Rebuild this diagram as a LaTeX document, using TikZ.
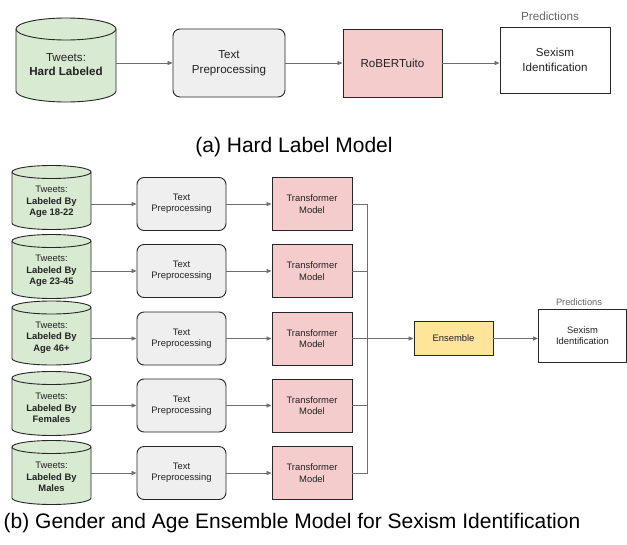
\documentclass[tikz,border=0pt]{standalone}
\usepackage{fontspec}
\setmainfont{Liberation Sans}
\usetikzlibrary{arrows.meta}
\definecolor{cylgreen}{HTML}{D9EAD3}
\definecolor{prepgray}{HTML}{EFEFEF}
\definecolor{modpink}{HTML}{F4CCCC}
\definecolor{ensyellow}{HTML}{FFE599}
\definecolor{linegray}{HTML}{6E6E6E}
\definecolor{txtdark}{HTML}{222222}
\newcommand\drawcyl[3]{%
  \path[fill=cylgreen,draw=black!85,line width=0.9pt]
    ([yshift=-#3]#1.north west) -- ([yshift=#3]#1.south west)
    arc[start angle=180,end angle=360,x radius=#2,y radius=#3]
    -- ([yshift=-#3]#1.north east)
    arc[start angle=0,end angle=180,x radius=#2,y radius=#3] -- cycle;
  \draw[black!85,line width=0.9pt] ([yshift=-#3]#1.north west)
    arc[start angle=180,end angle=360,x radius=#2,y radius=#3];}
\newcommand\brow[4]{%
  \node[cylbody,minimum width=79pt,minimum height=64pt] (c#1) at (51.5,#3) {};
  \drawcyl{c#1}{39.5pt}{6.5pt}
  \node[txtnode,smallfont] (ct#1) at (51.5,#3+4.5) {Tweets:\\\textbf{Labeled By}\\\textbf{#4}};
  \node[prepbox,smallfont,minimum width=89pt,minimum height=53pt] (p#1) at (181.5,#2) {Text\\Preprocessing};
  \node[modbox,smallfont,minimum width=80pt,minimum height=53pt] (t#1) at (312,#2) {Transformer\\Model};
  \draw[arr] (c#1.east |- p#1.west) -- (p#1.west);
  \draw[arr] (p#1.east) -- (t#1.west);}
\begin{document}
\begin{tikzpicture}[x=1pt,y=-1pt,
  bigfont/.style={font=\fontsize{11.6}{14.5}\selectfont},
  smallfont/.style={font=\fontsize{9.4}{11.3}\selectfont},
  cylbody/.style={inner sep=0pt,outer sep=0pt},
  txtnode/.style={align=center,text=txtdark,inner sep=0pt},
  prepbox/.style={draw=black!85,line width=0.9pt,fill=prepgray,rounded corners=7pt,align=center,text=txtdark,inner sep=0pt},
  modbox/.style={draw=black!85,line width=0.9pt,fill=modpink,align=center,text=txtdark,inner sep=0pt},
  outbox/.style={draw=black!85,line width=0.9pt,fill=white,align=center,text=txtdark,inner sep=0pt},
  ensbox/.style={draw=black!85,line width=0.9pt,fill=ensyellow,align=center,text=txtdark,inner sep=0pt},
  arr/.style={draw=linegray,line width=0.8pt,-{Triangle[length=5pt,width=4pt]}},
  conn/.style={draw=linegray,line width=0.8pt},
  predlbl/.style={text=black!60,inner sep=0pt},
  caption/.style={font=\fontsize{21}{25}\selectfont,text=black,inner sep=0pt}
]
\useasboundingbox[fill=white] (0,0) rectangle (627,544);

% ---------- (a) ----------
\node[cylbody,minimum width=100pt,minimum height=84pt] (c0) at (66,60) {};
\drawcyl{c0}{50pt}{11pt}
\node[txtnode,bigfont] (ct0) at (66,64.5) {Tweets:\\\textbf{Hard Labeled}};
\node[prepbox,bigfont,minimum width=112pt,minimum height=68pt] (p0) at (229,63) {Text\\Preprocessing};
\node[modbox,bigfont,minimum width=99pt,minimum height=68pt] (r0) at (392.5,63) {RoBERTuito};
\node[outbox,bigfont,minimum width=110pt,minimum height=66pt] (s0) at (555,60) {Sexism\\Identification};
\node[predlbl,font=\fontsize{11.7}{14}\selectfont] (pr0) at (550,16.5) {Predictions};
\draw[arr] (c0.east |- p0.west) -- (p0.west);
\draw[arr] (p0.east) -- (r0.west);
\draw[arr] (r0.east) -- (r0.east -| s0.west);
\node[caption] (capa) at (294,147) {(a) Hard Label Model};

% ---------- (b) ----------
\brow{1}{204}{197.5}{Age 18-22}
\brow{2}{271}{266.5}{Age 23-45}
\brow{3}{338.5}{333}{Age 46+}
\brow{4}{405.5}{403.5}{Females}
\brow{5}{473}{472.5}{Males}
\coordinate (bt) at (367,204);
\coordinate (bb) at (367,473);
\node[ensbox,smallfont,minimum width=79pt,minimum height=34pt] (ens) at (453.5,338.5) {Ensemble};
\node[outbox,smallfont,minimum width=88pt,minimum height=53pt] (s1) at (582.5,335.5) {Sexism\\Identification};
\node[predlbl,font=\fontsize{9.3}{11}\selectfont] (pr1) at (579,302.5) {Predictions};
\draw[conn] (t1.east) -- (bt) -- (bb) -- (t5.east);
\draw[conn] (t2.east) -- (t2.east -| bt);
\draw[conn] (t4.east) -- (t4.east -| bt);
\draw[arr] (t3.east) -- (ens.west);
\draw[arr] (ens.east) -- (ens.east -| s1.west);
\node[caption] (capb) at (292,523) {(b) Gender and Age Ensemble Model for Sexism Identification};
\end{tikzpicture}
\end{document}
